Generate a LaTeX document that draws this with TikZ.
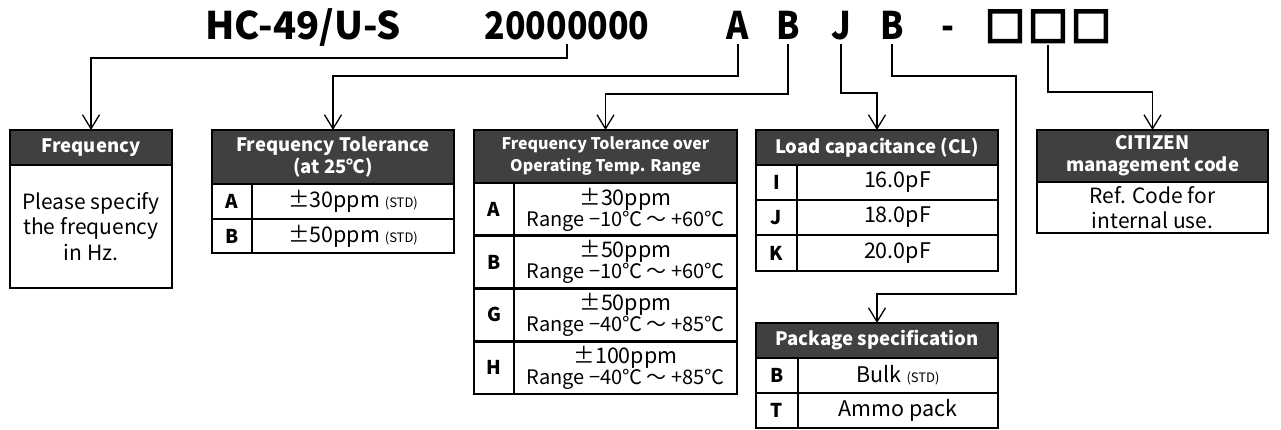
\documentclass[tikz,border=0pt]{standalone}
\usepackage{fontspec}
\setmainfont{Noto Sans CJK JP}
\newfontfamily\titlefont{Noto Sans CJK JP}[FakeStretch=0.89]
\newfontfamily\sqfont{Noto Sans CJK JP}[FakeBold=8]
\usetikzlibrary{arrows.meta}
\definecolor{hdr}{HTML}{404040}
\begin{document}
\begin{tikzpicture}[x=1pt,y=-1pt,
 cellbase/.style={inner sep=0pt, outer sep=0pt, anchor=north west, align=center},
 hdrcell/.style={cellbase, fill=hdr, text=white, font=\bfseries\fontsize{18.5}{22}\selectfont},
 bodycell/.style={cellbase, font=\fontsize{21}{25.5}\selectfont},
 keycell/.style={cellbase, font=\bfseries\fontsize{19}{22}\selectfont},
 valcell/.style={cellbase, font=\fontsize{21.5}{21}\selectfont},
 frame/.style={line width=2.6pt},
 divider/.style={line width=1.2pt},
 conn/.style={line width=1.3pt, -{Straight Barb[length=14pt,width=17pt]}},
 titletxt/.style={inner sep=0pt, outer sep=0pt, anchor=base, font=\titlefont\bfseries\fontsize{38}{40}\selectfont},
 modeltxt/.style={inner sep=0pt, outer sep=0pt, anchor=base, font=\bfseries\fontsize{38}{40}\selectfont},
 sqtxt/.style={inner sep=0pt, outer sep=0pt, anchor=base, font=\sqfont\fontsize{39}{40}\selectfont}
]
\useasboundingbox (0,0) rectangle (1281,430);
\newcommand{\stdtag}{{\fontsize{13}{15}\selectfont (STD)}}
\newcommand{\rng}[1]{{\fontsize{20}{21.5}\selectfont #1}}

% ---- title ----
\node[modeltxt] (tmodel) at (303,40) {HC-49/U-S};
\node[titletxt] (tfreq) at (567,40) {20000000};
\node[titletxt] (tA) at (738,40) {A};
\node[titletxt] (tB) at (788,40) {B};
\node[titletxt] (tJ) at (841,40) {J};
\node[titletxt] (tB2) at (892,40) {B};
\node[titletxt] (tdash) at (948,40) {-};
\node[sqtxt] (sq1) at (1005,41) {□};
\node[sqtxt] (sq2) at (1048,41) {□};
\node[sqtxt] (sq3) at (1091,41) {□};

% ---- Box 1: Frequency ----
\node[hdrcell, minimum width=162pt, minimum height=35pt] (freqH) at (10,130) {Frequency};
\node[bodycell, minimum width=162pt, minimum height=123pt] (freqB) at (10,165) {Please specify\\the frequency\\in Hz.};
\draw[frame] (freqH.north west) rectangle (freqB.south east);
\draw[frame] (freqH.south west) -- (freqH.south east);

% ---- Box 2: Frequency Tolerance ----
\node[hdrcell, minimum width=242pt, minimum height=54pt] (ftH) at (212,130) {Frequency Tolerance\\(at 25℃)};
\node[keycell, minimum width=40pt, minimum height=35pt] (ftKA) at (212,184) {A};
\node[valcell, minimum width=202pt, minimum height=35pt] (ftVA) at (252,184) {±30ppm \stdtag};
\node[keycell, minimum width=40pt, minimum height=34pt] (ftKB) at (212,219) {B};
\node[valcell, minimum width=202pt, minimum height=34pt] (ftVB) at (252,219) {±50ppm \stdtag};
\draw[frame] (ftH.north west) rectangle (ftVB.south east);
\draw[frame] (ftH.south west) -- (ftH.south east);
\draw[frame] (ftKA.south west) -- (ftVA.south east);
\draw[divider] (ftKA.north east) -- (ftKB.south east);

% ---- Box 3: Frequency Tolerance over Operating Temp. Range ----
\node[hdrcell, font=\bfseries\fontsize{16}{22}\selectfont, minimum width=263pt, minimum height=53pt] (ftoH) at (474,130) {Frequency Tolerance over\\Operating Temp. Range};
\node[keycell, minimum width=40pt, minimum height=52.75pt] (toKA) at (474,183) {A};
\node[valcell, minimum width=223pt, minimum height=52.75pt] (toVA) at (514,183) {±30ppm\\\rng{Range −10℃ ～ +60℃}};
\node[keycell, minimum width=40pt, minimum height=52.75pt] (toKB) at (474,235.75) {B};
\node[valcell, minimum width=223pt, minimum height=52.75pt] (toVB) at (514,235.75) {±50ppm\\\rng{Range −10℃ ～ +60℃}};
\node[keycell, minimum width=40pt, minimum height=52.75pt] (toKG) at (474,288.5) {G};
\node[valcell, minimum width=223pt, minimum height=52.75pt] (toVG) at (514,288.5) {±50ppm\\\rng{Range −40℃ ～ +85℃}};
\node[keycell, minimum width=40pt, minimum height=52.75pt] (toKH) at (474,341.25) {H};
\node[valcell, minimum width=223pt, minimum height=52.75pt] (toVH) at (514,341.25) {±100ppm\\\rng{Range −40℃ ～ +85℃}};
\draw[frame] (ftoH.north west) rectangle (toVH.south east);
\draw[frame] (ftoH.south west) -- (ftoH.south east);
\draw[frame] (toKA.south west) -- (toVA.south east);
\draw[frame] (toKB.south west) -- (toVB.south east);
\draw[frame] (toKG.south west) -- (toVG.south east);
\draw[divider] (toKA.north east) -- (toKH.south east);

% ---- Box 4: Load capacitance ----
\node[hdrcell, minimum width=242pt, minimum height=35pt] (ldH) at (756,130) {Load capacitance (CL)};
\node[keycell, minimum width=41pt, minimum height=35pt] (ldKI) at (756,165) {I};
\node[valcell, minimum width=201pt, minimum height=35pt] (ldVI) at (797,165) {16.0pF};
\node[keycell, minimum width=41pt, minimum height=35pt] (ldKJ) at (756,200) {J};
\node[valcell, minimum width=201pt, minimum height=35pt] (ldVJ) at (797,200) {18.0pF};
\node[keycell, minimum width=41pt, minimum height=36pt] (ldKK) at (756,235) {K};
\node[valcell, minimum width=201pt, minimum height=36pt] (ldVK) at (797,235) {20.0pF};
\draw[frame] (ldH.north west) rectangle (ldVK.south east);
\draw[frame] (ldH.south west) -- (ldH.south east);
\draw[frame] (ldKI.south west) -- (ldVI.south east);
\draw[frame] (ldKJ.south west) -- (ldVJ.south east);
\draw[divider] (ldKI.north east) -- (ldKK.south east);

% ---- Box 5: Package specification ----
\node[hdrcell, minimum width=242pt, minimum height=35pt] (pkgH) at (756,323) {Package specification};
\node[keycell, minimum width=42pt, minimum height=35pt] (pkKB) at (756,358) {B};
\node[valcell, minimum width=200pt, minimum height=35pt] (pkVB) at (798,358) {Bulk \stdtag};
\node[keycell, minimum width=42pt, minimum height=35pt] (pkKT) at (756,393) {T};
\node[valcell, minimum width=200pt, minimum height=35pt] (pkVT) at (798,393) {Ammo pack};
\draw[frame] (pkgH.north west) rectangle (pkVT.south east);
\draw[frame] (pkgH.south west) -- (pkgH.south east);
\draw[frame] (pkKB.south west) -- (pkVB.south east);
\draw[divider] (pkKB.north east) -- (pkKT.south east);

% ---- Box 6: CITIZEN management code ----
\node[hdrcell, minimum width=231pt, minimum height=52pt] (citH) at (1037,130) {CITIZEN\\management code};
\node[bodycell, minimum width=231pt, minimum height=51pt] (citB) at (1037,182) {Ref. Code for\\internal use.};
\draw[frame] (citH.north west) rectangle (citB.south east);
\draw[frame] (citH.south west) -- (citH.south east);

% ---- connectors ----
\coordinate (pkgbend) at (1016,294);
\draw[conn] ([yshift=-4pt]tfreq.base) -- (tfreq.base |- 0,58) -| (freqH.north);
\draw[conn] ([yshift=-4pt]tA.base) -- (tA.base |- 0,76) -| (ftH.north);
\draw[conn] ([yshift=-4pt]tB.base) -- (tB.base |- 0,94) -| (ftoH.north);
\draw[conn] ([yshift=-4pt]tJ.base) -- (tJ.base |- 0,93) -| (ldH.north);
\draw[conn] ([yshift=-4pt]tB2.base) -- (tB2.base |- 0,76) -| (pkgbend) -| (pkgH.north);
\draw[conn] ([yshift=-4pt]sq2.base) -- (sq2.base |- 0,92) -| (citH.north);
\end{tikzpicture}
\end{document}
